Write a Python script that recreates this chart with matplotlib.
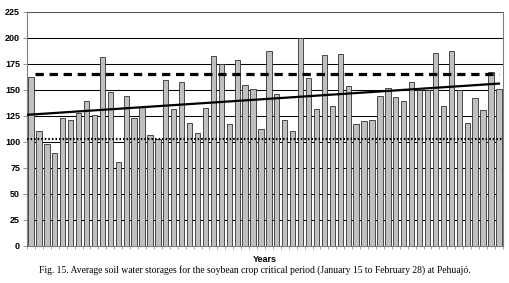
import matplotlib.pyplot as plt
import numpy as np

# average soil water storage (mm), one bar per year
storage = [162, 110, 98, 89, 123, 121, 128, 139, 126, 181,
           148, 80, 144, 123, 133, 106, 103, 159, 131, 157,
           118, 108, 132, 182, 175, 117, 178, 154, 151, 112,
           187, 146, 121, 110, 200, 161, 131, 183, 134, 184,
           153, 117, 120, 121, 144, 152, 143, 139, 157, 150,
           150, 185, 134, 187, 150, 118, 142, 130, 167, 151]
upper_level = 165
lower_level = 103
yticks = [0, 25, 50, 75, 100, 125, 150, 175, 200, 225]
caption = ("Fig. 15. Average soil water storages for the soybean crop critical "
           "period (January 15 to February 28) at Pehuaj\u00f3.")

x = np.arange(len(storage))

fig = plt.figure(figsize=(5.10, 2.83), dpi=100)
ax = fig.add_axes([0.053, 0.132, 0.933, 0.827])

# gridlines behind the bars
for v in yticks[1:-1]:
    ax.axhline(v, color='black', lw=0.75, zorder=0)
ax.axhline(yticks[-1], color='#505050', lw=0.75, zorder=0)

ax.bar(x, storage, width=0.67, color='#c0c0c0', edgecolor='#303030',
       linewidth=0.6, zorder=2)

# reference levels
ax.plot([x[0] + 0.5, x[-1]], [upper_level, upper_level], color='black',
        lw=2.3, linestyle=(0, (2.6, 1.8)), zorder=3)
ax.axhline(lower_level, color='black', lw=1.6, linestyle=(0, (0.7, 0.9)),
           zorder=3)

# linear trend
coef = np.polyfit(x, storage, 1)
ax.plot([-0.5, x[-1]], np.polyval(coef, [-0.5, x[-1]]), color='black',
        lw=1.6, zorder=4)

ax.set_xlim(-0.5, len(storage) - 0.5)
ax.set_ylim(0, 225)
ax.set_yticks(yticks)
ax.set_xticks(np.arange(len(storage) + 1) - 0.5)
ax.set_xticklabels([])
ax.tick_params(axis='x', length=2.5, width=0.5, color='#808080')
ax.tick_params(axis='y', length=3, width=0.6, color='#808080', pad=2,
               labelsize=6.5)
for lab in ax.get_yticklabels():
    lab.set_fontweight('bold')
    lab.set_family('Liberation Sans')

for side in ['left', 'right', 'bottom']:
    ax.spines[side].set_color('#808080')
    ax.spines[side].set_linewidth(0.8)
ax.spines['top'].set_visible(False)

ax.set_xlabel('Years', fontsize=6.5, fontweight='bold',
              family='Liberation Sans', labelpad=1)

fig.text(0.5, 0.045, caption, ha='center', va='center', fontsize=6.9,
         family='Liberation Serif')

fig.savefig('out.png', dpi=100)
